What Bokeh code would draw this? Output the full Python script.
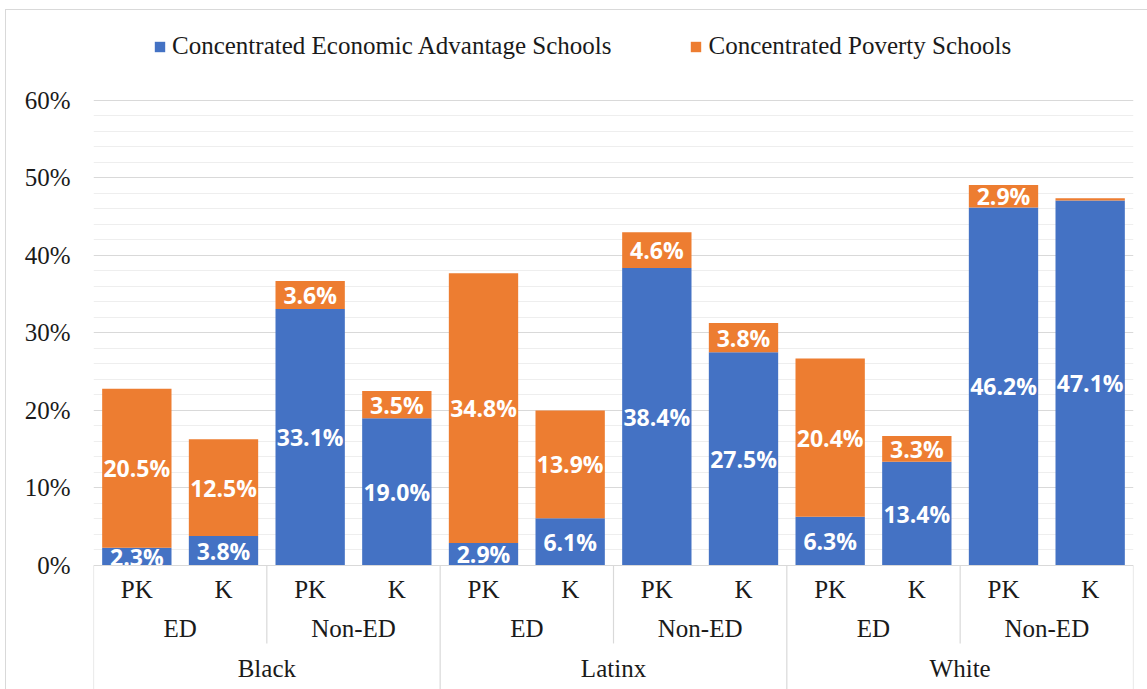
from bokeh.plotting import figure
from bokeh.layouts import row
from bokeh.models import (FactorRange, Range1d, ColumnDataSource, Legend, LegendItem)
from bokeh.core.properties import value
from bokeh.embed import file_html
from bokeh.resources import INLINE

races = ["Black", "Latinx", "White"]
eds = ["ED", "Non-ED"]
grades = ["PK", "K"]
series_names = ["Concentrated Economic Advantage Schools", "Concentrated Poverty Schools"]
advantage = [2.3, 3.8, 33.1, 19.0, 2.9, 6.1, 38.4, 27.5, 6.3, 13.4, 46.2, 47.1]
poverty = [20.5, 12.5, 3.6, 3.5, 34.8, 13.9, 4.6, 3.8, 20.4, 3.3, 2.9, 0.3]
y_ticks = [0, 10, 20, 30, 40, 50, 60]
y_minor = [v for v in range(0, 61, 2) if v % 10 != 0]
y_tick_labels = [f"{t}%" for t in y_ticks]

BLUE = "#4472C4"
ORANGE = "#ED7D31"
SERIF = "Liberation Serif"
GRID = "#d9d9d9"
TXT = "#1a1a1a"
FS = "25px"

factors = [(r, e, g) for r in races for e in eds for g in grades]
src = ColumnDataSource(dict(cat=factors, adv=advantage, pov=poverty))

yr = Range1d(-16.13, 71.613)

# left strip carrying the value-axis labels
ax = figure(x_range=Range1d(0, 87), y_range=yr, width=87, height=680,
            output_backend="svg", toolbar_location=None,
            x_axis_location=None, y_axis_location=None,
            min_border_left=0, min_border_right=0, min_border_top=0, min_border_bottom=0,
            background_fill_color="white", border_fill_color="white")
ax.outline_line_color = None
ax.grid.visible = False
ax.text(x=[64] * len(y_ticks), y=y_ticks, text=y_tick_labels, text_align="right",
        text_baseline="middle", text_font=value(SERIF), text_font_size=FS, text_color=TXT)

p = figure(x_range=FactorRange(*factors, factor_padding=0, subgroup_padding=0,
                               group_padding=0, range_padding=0),
           y_range=yr, width=1055, height=680, output_backend="svg", toolbar_location=None,
           x_axis_location=None, y_axis_location=None,
           min_border_left=0, min_border_right=15,
           min_border_top=0, min_border_bottom=0, background_fill_color="white",
           border_fill_color="white")
p.outline_line_color = None
p.grid.visible = False

p.hspan(y=y_minor, line_color="#eeeeee", line_width=1.2)
p.hspan(y=y_ticks[1:], line_color=GRID, line_width=1.2)

rs = p.vbar_stack(["adv", "pov"], x="cat", width=0.8, source=src,
                  color=[BLUE, ORANGE], line_color=None)

# data labels
lab_x, lab_y, lab_t = [], [], []
for c, a, o in zip(factors, advantage, poverty):
    lab_x.append(c); lab_y.append(a / 2); lab_t.append(f"{a:.1f}%")
    if o >= 1.0:
        lab_x.append(c); lab_y.append(a + o / 2); lab_t.append(f"{o:.1f}%")
p.text(x=lab_x, y=lab_y, text=lab_t, text_align="center", text_baseline="middle",
       text_color="white", text_font=value("Open Sans"), text_font_style="bold",
       text_font_size="23px")

# category axis area (Excel-style multi-level axis)
p.quad(left=[("Black", "ED", "PK", -0.5)], right=[("White", "Non-ED", "K", 0.5)],
       bottom=[-16.13], top=[0.0], fill_color="white", line_color=None)
p.segment(x0=[("Black", "ED", "PK", -0.5)], x1=[("White", "Non-ED", "K", 0.5)],
          y0=[0], y1=[0], line_color=GRID, line_width=1.2)
outer_x = [(r, "ED", "PK", -0.5) for r in races] + [("White", "Non-ED", "K", 0.5)]
p.segment(x0=outer_x, x1=outer_x, y0=[0] * 4, y1=[-16.13] * 4, line_color=GRID, line_width=1.2)
inner_x = [(r, "ED", "K", 0.5) for r in races]
p.segment(x0=inner_x, x1=inner_x, y0=[0] * 3, y1=[-10.06] * 3, line_color=GRID, line_width=1.2)

p.text(x=factors, y=[-3.1] * len(factors), text=[f[2] for f in factors],
       text_align="center", text_baseline="middle", text_font=value(SERIF),
       text_font_size=FS, text_color=TXT)
mid = [(r, e) for r in races for e in eds]
p.text(x=mid, y=[-8.13] * len(mid), text=[m[1] for m in mid],
       text_align="center", text_baseline="middle", text_font=value(SERIF),
       text_font_size=FS, text_color=TXT)
p.text(x=races, y=[-13.29] * len(races), text=races,
       text_align="center", text_baseline="middle", text_font=value(SERIF),
       text_font_size=FS, text_color=TXT)

legend = Legend(items=[LegendItem(label=series_names[0], renderers=[rs[0]]),
                       LegendItem(label=series_names[1], renderers=[rs[1]])],
                orientation="horizontal", location=(60, 630),
                glyph_width=13, glyph_height=13, label_standoff=6, spacing=78,
                padding=0, margin=0, border_line_color=None,
                background_fill_alpha=0, label_text_font=SERIF,
                label_text_font_size=FS, label_text_color=TXT)
p.add_layout(legend)

layout = row(ax, p, spacing=0)
layout.margin = (9, 0, 0, 5)
layout.styles = {"border-left": "1px solid #d9d9d9", "border-top": "1px solid #d9d9d9"}

open("out.html", "w").write(file_html(layout, INLINE))
